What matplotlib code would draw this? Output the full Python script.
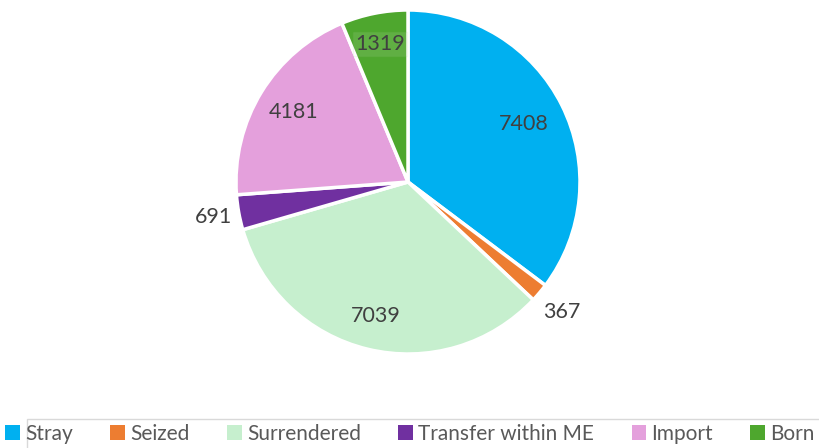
import matplotlib
matplotlib.use("Agg")
from matplotlib import pyplot as plt
from matplotlib.patches import Patch, Rectangle
import numpy as np

categories = ["Stray", "Seized", "Surrendered", "Transfer within ME", "Import", "Born"]
values = [7408, 367, 7039, 691, 4181, 1319]
colors = ["#00B0F0", "#ED7D31", "#C6EFCE", "#7030A0", "#E4A0DC", "#4EA72E"]
label_dist = [0.75, 1.17, 0.80, 1.15, 0.78, 0.82]

plt.rcParams["font.family"] = ["Lato", "DejaVu Sans"]
text_color = "#404040"

fig = plt.figure(figsize=(8.2, 4.48), dpi=100)
ax = fig.add_axes([0, 0, 1, 1])

cx, cy, r = 408, 448 - 182, 172
wedges, _ = ax.pie(values, colors=colors, startangle=90, counterclock=False,
                   center=(cx, cy), radius=r, frame=True,
                   wedgeprops=dict(edgecolor="white", linewidth=2.5))
ax.set_xlim(0, 820)
ax.set_ylim(0, 448)
ax.set_aspect("equal")
ax.axis("off")

for w, v, d in zip(wedges, values, label_dist):
    ang = np.deg2rad((w.theta1 + w.theta2) / 2)
    x = cx + d * r * np.cos(ang)
    y = cy + d * r * np.sin(ang)
    box = None
    if v == 1319:
        box = dict(facecolor="white", alpha=0.1, edgecolor="#8cc47a", pad=1.5)
    ax.text(x, y, str(v), ha="center", va="center", fontsize=15.5,
            color=text_color, bbox=box)

handles = [Patch(facecolor=c, edgecolor="none") for c in colors]
fig.legend(handles, categories, loc="center", bbox_to_anchor=(0.5, 1 - 434 / 448),
           ncol=6, frameon=False, fontsize=15, handlelength=0.7, handleheight=0.7,
           handletextpad=0.25, columnspacing=1.8, labelcolor="#595959")

fig.patches.append(Rectangle((27 / 820, -0.1), 1, (448 - 419) / 448 + 0.1,
                             transform=fig.transFigure, facecolor="none",
                             edgecolor="#d9d9d9", linewidth=1))

fig.savefig("out.png", dpi=100)
